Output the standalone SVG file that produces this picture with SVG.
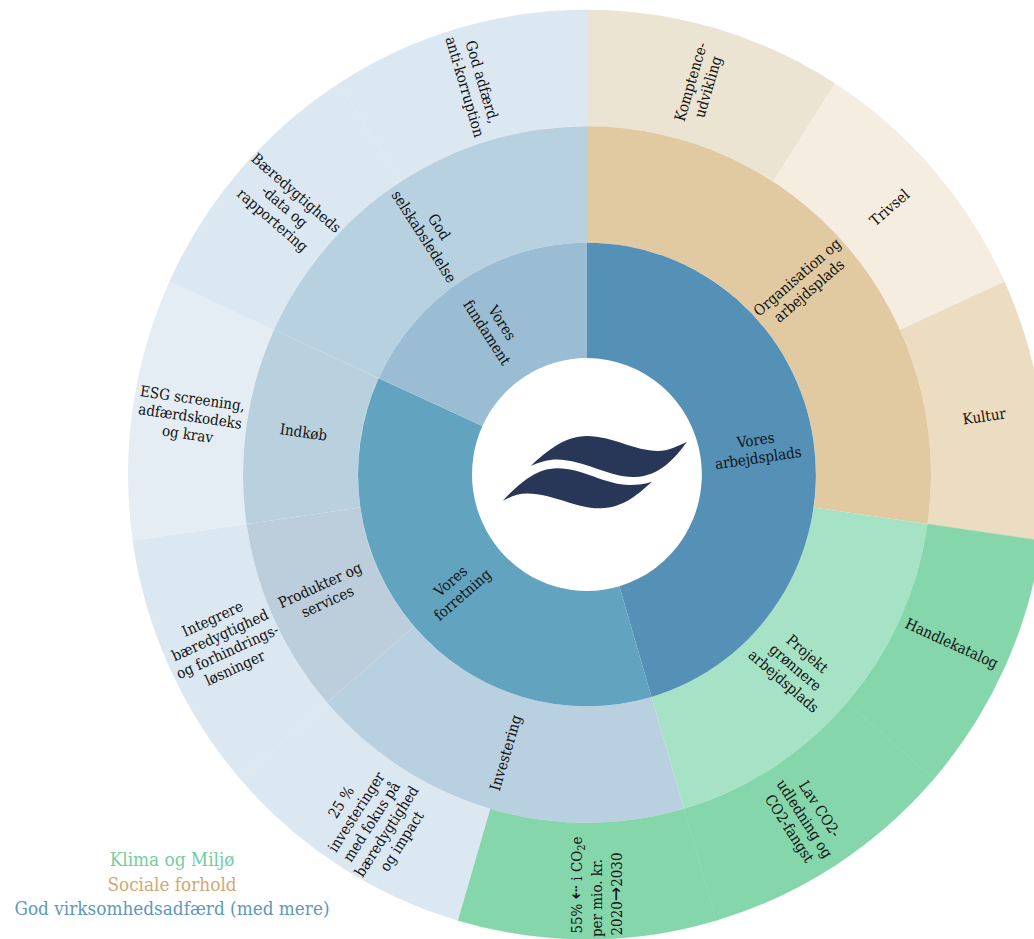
<svg xmlns="http://www.w3.org/2000/svg" width="1034" height="939" viewBox="0 0 1034 939">
<style>
text{font-family:"DejaVu Serif","Liberation Serif",serif;font-stretch:condensed;font-size:15px;fill:#111;text-anchor:middle}
.lg{font-size:18.8px}
.sg{stroke:#85d6ab;stroke-width:.4}
.sb{stroke:#dce8f1;stroke-width:.3}
.ar{font-family:"DejaVu Sans",sans-serif;font-size:19px}
</style>
<rect width="1034" height="939" fill="#fff"/>
<g id="wedges" transform="translate(587 474.5) scale(1 1.0125)">
<path id="w-komp" fill="#ebe4d2" d="M0 -344V-459A459 459 0 0 1 248.2 -386.1L186 -289.4A344 344 0 0 0 0 -344Z"/>
<path id="w-triv" fill="#f5ede0" d="M186 -289.4L248.2 -386.1A459 459 0 0 1 417.5 -190.7L312.9 -142.9A344 344 0 0 0 186 -289.4Z"/>
<path id="w-kult" fill="#ecdcc2" d="M312.9 -142.9L417.5 -190.7A459 459 0 0 1 454.3 65.3L340.5 49A344 344 0 0 0 312.9 -142.9Z"/>
<path id="w-hand" class="sg" fill="#85d6ab" d="M340.5 49L454.3 65.3A459 459 0 0 1 346.9 300.6L260 225.3A344 344 0 0 0 340.5 49Z"/>
<path id="w-lav" class="sg" fill="#85d6ab" d="M260 225.3L346.9 300.6A459 459 0 0 1 129.3 440.4L96.9 330.1A344 344 0 0 0 260 225.3Z"/>
<path id="w-55" class="sg" fill="#85d6ab" d="M96.9 330.1L129.3 440.4A459 459 0 0 1 -129.3 440.4L-96.9 330.1A344 344 0 0 0 96.9 330.1Z"/>
<path id="w-25" class="sb" fill="#dce8f1" d="M-96.9 330.1L-129.3 440.4A459 459 0 0 1 -346.9 300.6L-260 225.3A344 344 0 0 0 -96.9 330.1Z"/>
<path id="w-integ" class="sb" fill="#dce8f1" d="M-260 225.3L-346.9 300.6A459 459 0 0 1 -454.3 65.3L-340.5 49A344 344 0 0 0 -260 225.3Z"/>
<path id="w-esg" fill="#e4edf3" d="M-340.5 49L-454.3 65.3A459 459 0 0 1 -417.5 -190.7L-312.9 -142.9A344 344 0 0 0 -340.5 49Z"/>
<path id="w-baer" class="sb" fill="#dce8f1" d="M-312.9 -142.9L-417.5 -190.7A459 459 0 0 1 -248.2 -386.1L-186 -289.4A344 344 0 0 0 -312.9 -142.9Z"/>
<path id="w-adf" class="sb" fill="#dce8f1" d="M-186 -289.4L-248.2 -386.1A459 459 0 0 1 0 -459V-344A344 344 0 0 0 -186 -289.4Z"/>
<path id="w-org" fill="#e1caa1" d="M0 -229V-344A344 344 0 0 1 340.5 49L226.7 32.6A229 229 0 0 0 0 -229Z"/>
<path id="w-proj" fill="#a6e2c5" d="M226.7 32.6L340.5 49A344 344 0 0 1 96.9 330.1L64.5 219.7A229 229 0 0 0 226.7 32.6Z"/>
<path id="w-inv" fill="#b8d0df" d="M64.5 219.7L96.9 330.1A344 344 0 0 1 -260 225.3L-172.9 150.1A229 229 0 0 0 64.5 219.7Z"/>
<path id="w-prod" fill="#bccddc" d="M-172.9 150.1L-260 225.3A344 344 0 0 1 -340.5 49L-226.7 32.6A229 229 0 0 0 -172.9 150.1Z"/>
<path id="w-indk" fill="#b9d1df" d="M-226.7 32.6L-340.5 49A344 344 0 0 1 -312.9 -142.9L-208.3 -95.1A229 229 0 0 0 -226.7 32.6Z"/>
<path id="w-god" fill="#b8d1e0" d="M-208.3 -95.1L-312.9 -142.9A344 344 0 0 1 0 -344V-229A229 229 0 0 0 -208.3 -95.1Z"/>
<path id="w-arb" fill="#5591b7" d="M0 -115V-229A229 229 0 0 1 64.5 219.7L32.4 110.3A115 115 0 0 0 0 -115Z"/>
<path id="w-forr" fill="#62a3bf" d="M32.4 110.3L64.5 219.7A229 229 0 0 1 -208.3 -95.1L-104.6 -47.8A115 115 0 0 0 32.4 110.3Z"/>
<path id="w-fund" fill="#9bbdd4" d="M-104.6 -47.8L-208.3 -95.1A229 229 0 0 1 0 -229V-115A115 115 0 0 0 -104.6 -47.8Z"/>
</g>
<g id="logo" fill="#283758">
<path d="M530.7 466C548 450 565 436 587 436C612 436 635 451 658 451C668 451 678 446 687 441.7C675 458 660 476 635 477C610 478 585 460 557 459.5C548 459.5 540 462 530.7 466Z"/>
<path d="M502.7 500.7C518 485 535 468.5 557 468.3C582 468 605 485 630 485C638 485 645 484 652 481.7C640 492 625 508 600 508.3C575 508.5 555 494 527 493.5C518 493.5 510 497 502.7 500.7Z"/>
</g>
<g id="labels">
<g id="n-arb" transform="translate(757 449.6) rotate(-8.2)"><text><tspan x="0" y="-4.5">Vores</tspan><tspan x="0" dy="18">arbejdsplads</tspan></text></g>
<g id="n-forr" transform="translate(457 588.5) rotate(-40.9)"><text><tspan x="0" y="-4.5">Vores</tspan><tspan x="0" dy="18">forretning</tspan></text></g>
<g id="n-fund" transform="translate(494 328) rotate(57.3)"><text><tspan x="0" y="-4.5">Vores</tspan><tspan x="0" dy="18">fundament</tspan></text></g>
<g id="n-org" transform="translate(803.5 284.5) rotate(-40.9)"><text><tspan x="0" y="-4.5">Organisation og</tspan><tspan x="0" dy="18">arbejdsplads</tspan></text></g>
<g id="n-proj" transform="translate(795 668) rotate(40.9)"><text><tspan x="0" y="-13.5">Projekt</tspan><tspan x="0" dy="18">grønnere</tspan><tspan x="0" dy="18">arbejdsplads</tspan></text></g>
<g id="n-inv" transform="translate(506.3 753) rotate(-73.6)"><text><tspan x="0" y="4.5">Investering</tspan></text></g>
<g id="n-prod" transform="translate(324 594) rotate(-24.5)"><text><tspan x="0" y="-4.5">Produkter og</tspan><tspan x="0" dy="18">services</tspan></text></g>
<g id="n-indk" transform="translate(303.4 433) rotate(8.2)"><text><tspan x="0" y="4.5">Indkøb</tspan></text></g>
<g id="n-god" transform="translate(431 232) rotate(57.3)"><text><tspan x="0" y="-4.5">God</tspan><tspan x="0" dy="18">selskabsledelse</tspan></text></g>
<g id="n-komp" transform="translate(700 84.5) rotate(-73.6)"><text><tspan x="0" y="-4.5">Komptence-</tspan><tspan x="0" dy="18">udvikling</tspan></text></g>
<g id="n-triv" transform="translate(890 208) rotate(-40.9)"><text><tspan x="0" y="4.5">Trivsel</tspan></text></g>
<g id="n-kult" transform="translate(984.4 417) rotate(-8.2)"><text><tspan x="0" y="4.5">Kultur</tspan></text></g>
<g id="n-hand" transform="translate(951.5 644) rotate(24.5)"><text><tspan x="0" y="4.5">Handlekatalog</tspan></text></g>
<g id="n-lav" transform="translate(804 819) rotate(57.3)"><text><tspan x="0" y="-13.5">Lav CO2-</tspan><tspan x="0" dy="18">udledning og</tspan><tspan x="0" dy="18">CO2-fangst</tspan></text></g>
<g id="n-55" transform="translate(597 886) rotate(-90)"><text><tspan x="1" y="-15">55% <tspan class="ar">⇠</tspan> i CO<tspan font-size="11" dy="3">2</tspan><tspan dy="-3">e</tspan></tspan><tspan x="-12" y="5">per mio. kr.</tspan><tspan x="-8" y="25">2020<tspan class="ar">→</tspan>2030</tspan></text></g>
<g id="n-25" transform="translate(372 822) rotate(-57.3)"><text><tspan x="0" y="-31.5">25 %</tspan><tspan x="0" dy="18">investeringer</tspan><tspan x="0" dy="18">med fokus på</tspan><tspan x="0" dy="18">bæredygtighed</tspan><tspan x="0" dy="18">og impact</tspan></text></g>
<g id="n-integ" transform="translate(224 644) rotate(-24.5)"><text><tspan x="0" y="-22.5">Integrere</tspan><tspan x="0" dy="18">bæredygtighed</tspan><tspan x="0" dy="18">og forhindrings-</tspan><tspan x="0" dy="18">løsninger</tspan></text></g>
<g id="n-esg" transform="translate(190 417) rotate(8.2)"><text><tspan x="0" y="-13.5">ESG screening,</tspan><tspan x="0" dy="18">adfærdskodeks</tspan><tspan x="0" dy="18">og krav</tspan></text></g>
<g id="n-baer" transform="translate(284 207) rotate(40.9)"><text><tspan x="0" y="-13.5">Bæredygtigheds</tspan><tspan x="0" dy="18">-data og</tspan><tspan x="0" dy="18">rapportering</tspan></text></g>
<g id="n-adf" transform="translate(473 84.5) rotate(73.6)"><text><tspan x="0" y="-4.5">God adfærd,</tspan><tspan x="0" dy="18">anti-korruption</tspan></text></g>
</g>
<g id="legend">
<text class="lg" x="172" y="866" style="fill:#72cda0">Klima og Miljø</text>
<text class="lg" x="172" y="891" style="fill:#d2a96f">Sociale forhold</text>
<text class="lg" x="172" y="915" style="fill:#5d98be">God virksomhedsadfærd (med mere)</text>
</g>
</svg>
